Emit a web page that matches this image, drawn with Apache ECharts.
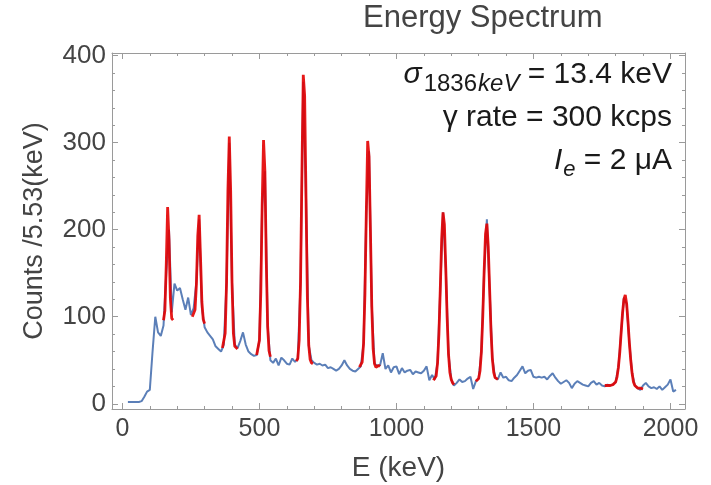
<!DOCTYPE html>
<html lang="en">
<head>
<meta charset="UTF-8">
<title>Energy Spectrum</title>
<script src="https://cdn.jsdelivr.net/npm/echarts@6.0.0/dist/echarts.min.js"></script>
<style>
  html, body { margin: 0; padding: 0; background: #fff; }
  #chart { width: 711px; height: 485px; }
</style>
</head>
<body>
<div id="chart"></div>
<script>
// measured spectrum, one value every 10 keV starting at 20 keV
var energyStart = 20;
var energyStep = 10;
var counts = [
  2, 2, 2, 2, 2, 3, 8, 14, 16, 60,
  100, 82, 78, 90, 150, 200, 105, 138, 130, 133,
  120, 108, 122, 102, 110, 140, 212, 110, 88, 82,
  78, 74, 66, 63, 60, 68, 139, 300, 139, 68,
  64, 72, 82, 68, 60, 57, 55, 56, 73, 228,
  267, 89, 50, 47, 52, 44, 53, 50, 46, 45,
  52, 48, 52, 140, 370, 236, 67, 50, 47, 45,
  46, 44, 45, 41, 42, 40, 38, 40, 44, 50,
  44, 40, 38, 37, 40, 43, 69, 219, 290, 112,
  46, 44, 44, 58, 40, 44, 36, 42, 43, 34,
  41, 36, 38, 39, 34, 37, 36, 35, 38, 43,
  27, 33, 28, 47, 132, 220, 156, 57, 28, 21,
  24, 28, 25, 26, 29, 31, 17, 26, 29, 60,
  152, 212, 132, 52, 30, 28, 36, 30, 31, 27,
  26, 30, 33, 38, 43, 35, 38, 39, 31, 30,
  31, 30, 31, 28, 32, 35, 30, 26, 23, 25,
  27, 24, 18, 23, 26, 24, 22, 21, 20, 24,
  26, 22, 24, 21, 20, 22, 21, 22, 25, 42,
  82, 122, 115, 70, 35, 21, 18, 16, 21, 24,
  20, 18, 19, 17, 20, 16, 19, 22, 28, 14,
  16
];

// peak fits (red), one value every 5 keV from the given start energy
var fitStep = 5;
var fitStarts = [150, 255, 365, 490, 635, 865, 1135, 1290, 1760];
var fit166 = [96, 107, 160, 226, 189, 121, 98, 96];
var fit279 = [100, 101, 108, 137, 193, 217, 168, 117, 97, 92];
var fit392 = [64, 66, 81, 139, 245, 307, 245, 139, 81, 66, 64, 63];
var fit514 = [56, 58, 73, 128, 228, 303, 267, 164, 89, 61, 54];
var fit662 = [49, 52, 73, 140, 263, 378, 354, 236, 122, 67, 51, 47, 46];
var fit898 = [42, 43, 48, 69, 126, 219, 302, 284, 200, 112, 63, 46, 42, 43, 44, 43];
var fit1173 = [27, 27, 32, 47, 80, 132, 189, 220, 206, 156, 99, 57, 36, 28, 24, 22];
var fit1332 = [26, 26, 29, 38, 60, 100, 152, 195, 207, 181, 132, 84, 52, 36, 30, 28, 28];
var fit1836 = [21, 20, 21, 22, 21, 21, 22, 23, 25, 31, 42, 59, 82, 104, 120, 125, 115, 94, 70, 50, 35, 25, 21, 19, 18, 18, 18, 17, 17];
var fits = [fit166, fit279, fit392, fit514, fit662, fit898, fit1173, fit1332, fit1836];

// ticks
var xMajor = [0, 500, 1000, 1500, 2000];
var xMinor = [100, 200, 300, 400, 600, 700, 800, 900, 1100, 1200, 1300, 1400, 1600, 1700, 1800, 1900];
var yMajor = [0, 100, 200, 300, 400];
var yMinor = [20, 40, 60, 80, 120, 140, 160, 180, 220, 240, 260, 280, 320, 340, 360, 380];

var xMin = -38, xMax = 2053;
var yMin = -6, yMax = 403;

var font = '"Liberation Sans", Arial, sans-serif';
var frameColor = '#9a9a9a';

var chart = echarts.init(document.getElementById('chart'));

function plain(v) { return String(v); }

function xAxisDef(grid, pos, ticks, len, showLine, labels) {
  return {
    type: 'value', gridIndex: grid, position: pos, min: xMin, max: xMax,
    axisLine: { show: showLine, onZero: false, lineStyle: { color: frameColor, width: 1 } },
    axisTick: { show: true, inside: true, length: len, customValues: ticks,
                lineStyle: { color: frameColor, width: 1 } },
    axisLabel: labels ? { show: true, customValues: xMajor, margin: 8, fontSize: 25,
                          color: '#444', fontFamily: font, formatter: plain } : { show: false },
    splitLine: { show: false }
  };
}
function yAxisDef(grid, pos, ticks, len, showLine, labels) {
  return {
    type: 'value', gridIndex: grid, position: pos, min: yMin, max: yMax,
    axisLine: { show: showLine, onZero: false, lineStyle: { color: frameColor, width: 1 } },
    axisTick: { show: true, inside: true, length: len, customValues: ticks,
                lineStyle: { color: frameColor, width: 1 } },
    axisLabel: labels ? { show: true, customValues: yMajor, margin: 6, fontSize: 26,
                          color: '#444', fontFamily: font, formatter: plain } : { show: false },
    splitLine: { show: false }
  };
}

var xAxes = [
  xAxisDef(0, 'bottom', xMajor, 6, true, true),
  xAxisDef(0, 'top', xMajor, 6, true, false),
  xAxisDef(1, 'bottom', xMinor, 3, false, false),
  xAxisDef(1, 'top', xMinor, 3, false, false)
];
xAxes[0].name = 'E (keV)';
xAxes[0].nameLocation = 'middle';
xAxes[0].nameGap = 45;
xAxes[0].nameTextStyle = { fontSize: 28, color: '#444', fontFamily: font };

var yAxes = [
  yAxisDef(0, 'left', yMajor, 6, true, true),
  yAxisDef(0, 'right', yMajor, 6, true, false),
  yAxisDef(1, 'left', yMinor, 3, false, false),
  yAxisDef(1, 'right', yMinor, 3, false, false)
];
yAxes[0].name = 'Counts /5.53(keV)';
yAxes[0].nameLocation = 'middle';
yAxes[0].nameGap = 64;
yAxes[0].nameTextStyle = { fontSize: 27, color: '#444', fontFamily: font };

var series = [{
  type: 'line',
  xAxisIndex: 0, yAxisIndex: 0,
  showSymbol: false,
  lineStyle: { color: '#5b7fb8', width: 2 },
  data: counts.map(function (c, i) { return [energyStart + i * energyStep, c]; }),
  z: 2
}];
fits.forEach(function (vals, k) {
  series.push({
    type: 'line',
    xAxisIndex: 0, yAxisIndex: 0,
    showSymbol: false,
    lineStyle: { color: '#e30000', width: 2.8, opacity: 0.9 },
    data: vals.map(function (v, i) { return [fitStarts[k] + i * fitStep, v]; }),
    z: 3
  });
});

var textColor = '#1a1a1a';
var option = {
  animation: false,
  backgroundColor: '#fff',
  grid: [
    { left: 112, right: 26, top: 53, bottom: 76, outerBoundsMode: 'none' },
    { left: 112, right: 26, top: 53, bottom: 76, outerBoundsMode: 'none' }
  ],
  xAxis: xAxes,
  yAxis: yAxes,
  series: series,
  graphic: [
    { type: 'text', x: 363, y: 3,
      style: { text: 'Energy Spectrum', fontSize: 31, fill: '#444', fontFamily: font } },
    { type: 'text', x: 672, y: 75,
      style: {
        text: '{g|σ}{sub|1836}{subi|keV}{m| = 13.4 keV}',
        align: 'right', verticalAlign: 'middle', fill: textColor,
        rich: {
          g: { fontSize: 30, fontFamily: font, fontStyle: 'italic', fill: textColor },
          sub: { fontSize: 24, fontFamily: font, fill: textColor, padding: [18, 0, 0, 2] },
          subi: { fontSize: 24, fontFamily: font, fontStyle: 'italic', fill: textColor, padding: [18, 0, 0, 1] },
          m: { fontSize: 30, fontFamily: font, fill: textColor }
        }
      } },
    { type: 'text', x: 672, y: 118,
      style: { text: 'γ rate = 300 kcps', align: 'right', verticalAlign: 'middle',
               fontSize: 30, fontFamily: font, fill: textColor } },
    { type: 'text', x: 672, y: 161,
      style: {
        text: '{i|I}{sub|e}{m| = 2 μA}',
        align: 'right', verticalAlign: 'middle', fill: textColor,
        rich: {
          i: { fontSize: 30, fontFamily: font, fontStyle: 'italic', fill: textColor },
          sub: { fontSize: 22, fontFamily: font, fontStyle: 'italic', fill: textColor, padding: [18, 0, 0, 1] },
          m: { fontSize: 30, fontFamily: font, fill: textColor }
        }
      } }
  ]
};

chart.setOption(option);
</script>
</body>
</html>
